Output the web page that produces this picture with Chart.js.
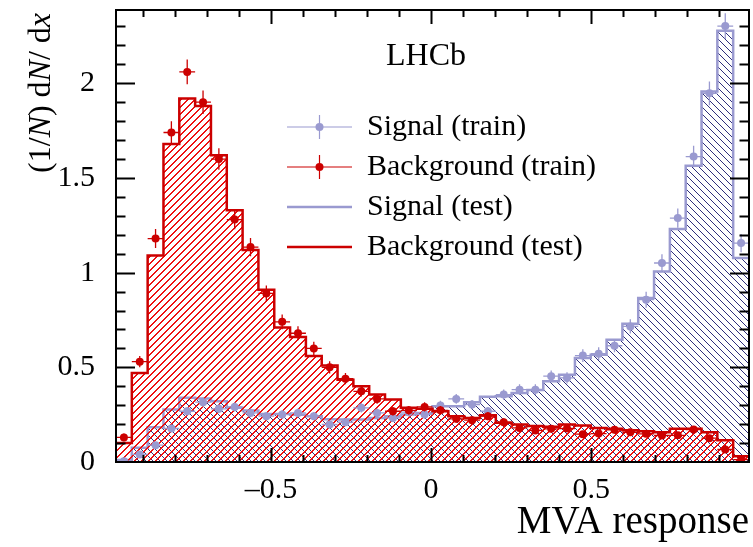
<!DOCTYPE html>
<html lang="en">
<head>
<meta charset="UTF-8">
<title>MVA response</title>
<script src="https://cdn.jsdelivr.net/npm/chart.js"></script>
<style>
  body { margin: 0; background: #fff; }
  canvas { display: block; }
</style>
</head>
<body>
<canvas id="mvaChart" width="753" height="547"></canvas>
<script>
// binning of the MVA output
const xMin = -0.984;
const xMax = 0.993;
const nBins = 40;
const xTicks = [-0.5, 0, 0.5];
const yTicks = [0, 0.5, 1, 1.5, 2];
const yMax = 2.387;

const seriesNames = ['Signal (train)', 'Background (train)', 'Signal (test)', 'Background (test)'];

const signalTest = [0.01, 0.075, 0.184, 0.277, 0.339, 0.335, 0.321, 0.286, 0.272, 0.254,
  0.254, 0.249, 0.242, 0.226, 0.224, 0.224, 0.233, 0.242, 0.251, 0.259,
  0.295, 0.295, 0.316, 0.344, 0.347, 0.365, 0.38, 0.426, 0.461, 0.549,
  0.567, 0.646, 0.73, 0.866, 1.006, 1.23, 1.565, 1.956, 2.277, 1.077];
const backgroundTest = [0.10, 0.47, 1.09, 1.68, 1.92, 1.88, 1.62, 1.33, 1.12, 0.91,
  0.71, 0.66, 0.56, 0.51, 0.435, 0.40, 0.356, 0.33, 0.286, 0.281,
  0.268, 0.242, 0.233, 0.247, 0.207, 0.198, 0.19, 0.186, 0.198, 0.193,
  0.18, 0.175, 0.168, 0.162, 0.157, 0.175, 0.175, 0.157, 0.115, 0.031];
const signalTrain = [0.004, 0.04, 0.089, 0.177, 0.268, 0.316, 0.281, 0.291, 0.259, 0.242,
  0.251, 0.259, 0.242, 0.198, 0.21, 0.286, 0.259, 0.233, 0.263, 0.251,
  0.298, 0.333, 0.303, 0.268, 0.356, 0.382, 0.382, 0.453, 0.444, 0.562,
  0.572, 0.614, 0.716, 0.857, 1.051, 1.288, 1.613, 1.947, 2.302, 1.156];
const signalTrainErr = [0.003, 0.009, 0.013, 0.019, 0.023, 0.025, 0.024, 0.024, 0.023, 0.022,
  0.023, 0.023, 0.022, 0.02, 0.021, 0.024, 0.023, 0.022, 0.023, 0.023,
  0.025, 0.026, 0.025, 0.023, 0.027, 0.028, 0.028, 0.03, 0.03, 0.034,
  0.034, 0.035, 0.038, 0.042, 0.046, 0.051, 0.057, 0.063, 0.068, 0.048];
const backgroundTrain = [0.13, 0.53, 1.18, 1.74, 2.06, 1.90, 1.60, 1.28, 1.135, 0.89,
  0.74, 0.68, 0.60, 0.50, 0.44, 0.373, 0.333, 0.268, 0.273, 0.291,
  0.273, 0.228, 0.221, 0.242, 0.21, 0.18, 0.167, 0.175, 0.177, 0.147,
  0.15, 0.17, 0.157, 0.149, 0.14, 0.141, 0.171, 0.126, 0.066, 0.013];
const backgroundTrainErr = [0.02, 0.03, 0.05, 0.06, 0.065, 0.062, 0.057, 0.051, 0.048, 0.042,
  0.039, 0.037, 0.035, 0.032, 0.03, 0.027, 0.026, 0.023, 0.023, 0.024,
  0.023, 0.021, 0.021, 0.022, 0.021, 0.019, 0.018, 0.019, 0.019, 0.017,
  0.017, 0.019, 0.018, 0.017, 0.017, 0.017, 0.019, 0.016, 0.012, 0.005];

const red = '#cc0000';
const redHatch = '#ee1111';
const blue = '#9a9ad0';
const blueHatch = '#2f2f7c';
const serif = "'Liberation Serif', 'Times New Roman', serif";

const binW = (xMax - xMin) / nBins;
const edges = Array.from({ length: nBins + 1 }, (_, i) => xMin + i * binW);
const centers = edges.slice(0, -1).map(e => e + binW / 2);

function histPoints(vals) {
  const pts = vals.map((v, i) => ({ x: edges[i], y: v }));
  pts.push({ x: edges[nBins], y: vals[nBins - 1] });
  return pts;
}

// crisp diagonal hatching like ROOT fill styles 3004/3005
function hatch(color, forward, thick) {
  const s = 7;
  const c = document.createElement('canvas');
  c.width = s; c.height = s;
  const g = c.getContext('2d');
  g.fillStyle = color;
  for (let i = 0; i < s; i++) {
    const py = forward ? s - 1 - i : i;
    g.fillRect(i, py, 1, 1);
    if (thick) g.fillRect((i + 1) % s, py, 1, 1);
  }
  return g.createPattern(c, 'repeat');
}

// error bars under the markers
const errorBars = {
  id: 'errorBars',
  beforeDatasetDraw(chart, args) {
    const ds = chart.data.datasets[args.index];
    if (!ds.errors) return;
    const { ctx, chartArea: a, scales: { x, y } } = chart;
    ctx.save();
    ctx.beginPath();
    ctx.rect(a.left, a.top, a.right - a.left, a.bottom - a.top);
    ctx.clip();
    ctx.strokeStyle = ds.pointBackgroundColor;
    ctx.lineWidth = 1.3;
    ds.data.forEach((p, i) => {
      const px = x.getPixelForValue(p.x);
      const py = y.getPixelForValue(p.y);
      ctx.beginPath();
      ctx.moveTo(x.getPixelForValue(p.x - binW / 2), py);
      ctx.lineTo(x.getPixelForValue(p.x + binW / 2), py);
      ctx.moveTo(px, y.getPixelForValue(p.y - ds.errors[i]));
      ctx.lineTo(px, y.getPixelForValue(p.y + ds.errors[i]));
      ctx.stroke();
    });
    ctx.restore();
  }
};

// ROOT style frame with inward ticks, axis title, legend and label
const decorations = {
  id: 'decorations',
  afterDatasetsDraw(chart) {
    const { ctx, chartArea: a, scales: { x, y } } = chart;
    ctx.save();
    ctx.strokeStyle = '#000';
    ctx.lineWidth = 2;
    ctx.strokeRect(a.left, a.top, a.right - a.left, a.bottom - a.top);
    ctx.beginPath();
    for (let k = -9; k <= 9; k++) {
      const v = k / 10;
      const px = Math.round(x.getPixelForValue(v)) + 0.5;
      const len = (k % 5 === 0) ? 14 : 7;
      ctx.moveTo(px, a.bottom); ctx.lineTo(px, a.bottom - len);
      ctx.moveTo(px, a.top); ctx.lineTo(px, a.top + len);
    }
    for (let k = 1; k <= 23; k++) {
      const v = k / 10;
      const py = Math.round(y.getPixelForValue(v)) + 0.5;
      const len = (k % 5 === 0) ? 19 : 9.5;
      ctx.moveTo(a.left, py); ctx.lineTo(a.left + len, py);
      ctx.moveTo(a.right, py); ctx.lineTo(a.right - len, py);
    }
    ctx.stroke();

    // y axis title with italic N and x
    const parts = [['(1/', false], ['N', true], [') d', false], ['N', true], ['/ d', false], ['x', true]];
    const fs = 32;
    let total = 0;
    parts.forEach(([t, it]) => {
      ctx.font = (it ? 'italic ' : '') + fs + 'px ' + serif;
      total += ctx.measureText(t).width;
    });
    ctx.translate(50, 13);
    ctx.rotate(-Math.PI / 2);
    ctx.fillStyle = '#000';
    ctx.textAlign = 'left';
    ctx.textBaseline = 'alphabetic';
    let cx = -total;
    parts.forEach(([t, it]) => {
      ctx.font = (it ? 'italic ' : '') + fs + 'px ' + serif;
      ctx.fillText(t, cx, 0);
      cx += ctx.measureText(t).width;
    });
    ctx.restore();

    // LHCb label and legend
    ctx.save();
    ctx.fillStyle = '#000';
    ctx.textBaseline = 'middle';
    ctx.textAlign = 'left';
    ctx.font = '32px ' + serif;
    ctx.fillText('LHCb', 386, 57);
    const styles = [
      { color: blue, marker: true },
      { color: red, marker: true },
      { color: blue, marker: false },
      { color: red, marker: false }
    ];
    ctx.font = '30px ' + serif;
    seriesNames.forEach((name, i) => {
      const ly = 127 + i * 40;
      const st = styles[i];
      ctx.strokeStyle = st.color;
      ctx.lineWidth = st.marker ? 1.2 : 2.5;
      ctx.beginPath();
      ctx.moveTo(287, ly); ctx.lineTo(352, ly);
      if (st.marker) {
        ctx.moveTo(319.5, ly - 12); ctx.lineTo(319.5, ly + 12);
      }
      ctx.stroke();
      if (st.marker) {
        ctx.fillStyle = st.color;
        ctx.beginPath();
        ctx.arc(319.5, ly, 4, 0, Math.PI * 2);
        ctx.fill();
      }
      ctx.fillStyle = '#000';
      ctx.fillText(name, 367, ly);
    });
    ctx.restore();
  }
};

const ctx = document.getElementById('mvaChart').getContext('2d');
new Chart(ctx, {
  type: 'line',
  data: {
    datasets: [
      {
        label: seriesNames[1],
        data: centers.map((c, i) => ({ x: c, y: backgroundTrain[i] })),
        errors: backgroundTrainErr,
        showLine: false,
        pointRadius: 4,
        pointBorderWidth: 0,
        pointBackgroundColor: red,
        borderColor: red
      },
      {
        label: seriesNames[0],
        data: centers.map((c, i) => ({ x: c, y: signalTrain[i] })),
        errors: signalTrainErr,
        showLine: false,
        pointRadius: 4,
        pointBorderWidth: 0,
        pointBackgroundColor: blue,
        borderColor: blue
      },
      {
        label: seriesNames[3],
        data: histPoints(backgroundTest),
        stepped: 'before',
        borderColor: red,
        borderWidth: 2.5,
        backgroundColor: hatch(redHatch, true, true),
        fill: 'origin',
        pointRadius: 0
      },
      {
        label: seriesNames[2],
        data: histPoints(signalTest),
        stepped: 'before',
        borderColor: blue,
        borderWidth: 2.5,
        backgroundColor: hatch(blueHatch, false, false),
        fill: 'origin',
        pointRadius: 0
      }
    ]
  },
  options: {
    responsive: false,
    animation: false,
    layout: { padding: { top: 10, right: 3, left: 0, bottom: 0 } },
    plugins: {
      legend: { display: false },
      tooltip: { enabled: false }
    },
    scales: {
      x: {
        type: 'linear',
        min: xMin,
        max: xMax,
        grid: { display: false },
        border: { display: false },
        afterBuildTicks: s => { s.ticks = xTicks.map(v => ({ value: v })); },
        afterFit: s => { s.height = 85; s.paddingLeft = 0; s.paddingRight = 0; },
        ticks: {
          padding: 2,
          color: '#000',
          font: { family: serif, size: 30 },
          callback: v => (v < 0 ? '\u2013' + Math.abs(v) : String(v))
        },
        title: {
          display: true,
          text: 'MVA response',
          align: 'end',
          color: '#000',
          font: { family: serif, size: 39 },
          padding: { top: 0, bottom: 1 }
        }
      },
      y: {
        min: 0,
        max: yMax,
        grid: { display: false },
        border: { display: false },
        afterBuildTicks: s => { s.ticks = yTicks.map(v => ({ value: v })); },
        afterFit: s => { s.width = 116; s.paddingTop = 0; s.paddingBottom = 0; },
        ticks: {
          padding: 13,
          color: '#000',
          font: { family: serif, size: 30 },
          callback: v => String(v)
        }
      }
    }
  },
  plugins: [errorBars, decorations]
});
</script>
</body>
</html>
